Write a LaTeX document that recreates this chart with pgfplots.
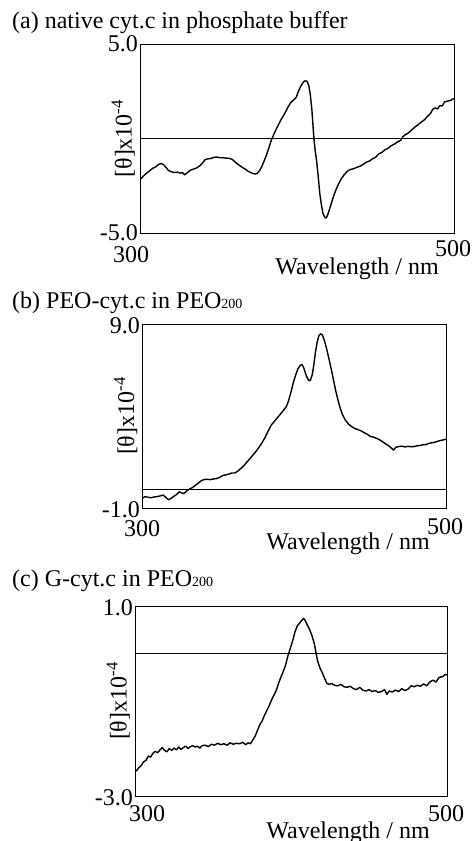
\documentclass[border=0pt]{standalone}
\usepackage{fontspec}
\setmainfont{Liberation Serif}
\usepackage{pgfplots}
\pgfplotsset{compat=1.18}

\newcommand{\lbl}{\fontsize{24bp}{28bp}\selectfont}
\newcommand{\sm}{\fontsize{14bp}{14bp}\selectfont}

\pgfplotsset{
  cdpanel/.style={
    scale only axis, anchor=south west,
    xmin=300, xmax=500,
    axis line style={line width=0.8bp},
    major tick length=0pt,
    tick label style={font=\lbl, inner sep=0pt},
    label style={font=\lbl, inner sep=0pt},
    xtick={300}, xticklabels={300},
    extra x ticks={500}, extra x tick labels={500},
    xlabel={Wavelength / nm},
    xlabel style={at={(axis description cs:1,0)}, anchor=north east},
    ylabel={[θ]x10\textsuperscript{-4}},
    ylabel style={anchor=south},
  },
  curve/.style={black, line width=1.4bp, line join=round},
  zero/.style={black, line width=0.8bp, forget plot},
}

\begin{document}
\begin{tikzpicture}
\useasboundingbox (0,0) rectangle (475bp,-841bp);

\node[anchor=base west, inner sep=0, font=\lbl] at (12bp,-28bp) {(a) native cyt.c in phosphate buffer};
\node[anchor=base west, inner sep=0, font=\lbl] at (12bp,-308bp) {(b) PEO-cyt.c in PEO{\sm 200}};
\node[anchor=base west, inner sep=0, font=\lbl] at (12bp,-586bp) {(c) G-cyt.c in PEO{\sm 200}};

% (a)  (extra tick shifts add to the ordinary ones)
\begin{axis}[cdpanel, at={(140bp,-233bp)}, width=314bp, height=189bp,
  ymin=-5, ymax=5,
  ytick={-5}, yticklabels={-5.0},
  extra y ticks={5}, extra y tick labels={5.0},
  yticklabel style={anchor=east, xshift=-2bp, yshift=0.5bp},
  xticklabel style={anchor=north, xshift=-9bp, yshift=-13bp},
  extra x tick style={xticklabel style={anchor=north, xshift=8bp, yshift=6bp},
    yticklabel style={anchor=north east, yshift=0.5bp}},
  xlabel style={xshift=-15bp, yshift=-25bp},
  ylabel style={at={(axis description cs:-0.016,0.5)}}]
\addplot[zero] coordinates {(300,0) (500,0)};
\addplot[curve] coordinates {
(300,-2.18) (302,-2.00) (304,-1.85) (306,-1.72) (308,-1.58) (310,-1.50) (312,-1.36)
(313.5,-1.33) (315,-1.38) (316.5,-1.52) (318,-1.68) (320,-1.76) (322,-1.80) (324,-1.78)
(325.5,-1.83) (327,-1.80) (328.5,-1.92) (330,-1.82) (332,-1.68) (334,-1.62) (336,-1.56)
(338,-1.45) (340,-1.28) (341.5,-1.12) (343,-1.08) (345,-1.06) (347,-1.00) (349,-0.98)
(351,-1.02) (353,-1.02) (355,-1.04) (357,-1.05) (359,-1.12) (361,-1.28) (363,-1.40)
(365,-1.52) (367,-1.62) (369,-1.74) (371,-1.82) (373,-1.88) (374.5,-1.86) (376,-1.72)
(377.5,-1.50) (379,-1.20) (380.5,-0.88) (382,-0.52) (383.5,-0.12) (385,0.18) (386.5,0.45)
(388,0.70) (390,1.02) (392,1.30) (394,1.62) (396,1.90) (398,2.05) (399.5,2.18)
(401,2.52) (402.5,2.78) (404,2.98) (405.2,3.06) (406.5,3.02) (407.5,2.80) (408.5,2.30)
(409.5,1.50) (410.5,0.30) (411.5,-0.60) (412.5,-1.20) (413.5,-2.00) (414.5,-2.90)
(415.5,-3.50) (416.5,-3.95) (417.5,-4.15) (418.5,-4.21) (419.5,-4.05) (420.5,-3.80)
(422,-3.40) (423.5,-3.00) (425,-2.68) (426.5,-2.40) (428,-2.16) (430,-1.92) (432,-1.74)
(434,-1.64) (436,-1.60) (438,-1.53) (440,-1.47) (442,-1.38) (444,-1.26) (446,-1.20)
(448,-1.08) (450,-1.00) (452,-0.82) (454,-0.74) (456,-0.60) (458,-0.52) (460,-0.38)
(462,-0.30) (464,-0.18) (466,-0.10) (467.5,0.10) (469,0.20) (471,0.30) (473,0.45)
(475,0.60) (477,0.72) (479,0.86) (481,0.98) (483,1.16) (485,1.32) (486.5,1.55)
(488,1.62) (489.5,1.56) (491,1.74) (492.5,1.72) (494,1.94) (496,1.98) (498,2.02) (500,2.12)};
\end{axis}

% (b)
\begin{axis}[cdpanel, at={(142bp,-508bp)}, width=304bp, height=184bp,
  ymin=-1, ymax=9,
  ytick={-1}, yticklabels={-1.0},
  extra y ticks={9}, extra y tick labels={9.0},
  yticklabel style={anchor=east, xshift=-2bp, yshift=-1.5bp},
  xticklabel style={anchor=north, yshift=-12bp},
  extra x tick style={xticklabel style={anchor=north, xshift=-1bp, yshift=2bp},
    yticklabel style={anchor=north east, yshift=3.5bp}},
  xlabel style={xshift=-16bp, yshift=-25bp},
  ylabel style={at={(axis description cs:-0.015,0.5)}}]
\addplot[zero] coordinates {(300,0) (500,0)};
\addplot[curve] coordinates {
(300,-0.49) (302,-0.38) (304,-0.42) (306,-0.44) (308,-0.40) (310,-0.38) (312,-0.34)
(314,-0.30) (316,-0.45) (317.5,-0.55) (319,-0.48) (321,-0.36) (323,-0.25) (324.5,-0.12)
(326,-0.18) (327.5,-0.22) (329,-0.10) (331,0.02) (333,0.10) (335,0.22) (337,0.35)
(339,0.48) (341,0.55) (343,0.56) (345,0.54) (347,0.58) (349,0.60) (351,0.66) (353,0.76)
(355,0.80) (357,0.84) (359,0.90) (361,0.90) (363,1.00) (365,1.15) (367,1.30) (369,1.50)
(371,1.68) (373,1.88) (375,2.08) (377,2.30) (379,2.55) (381,2.84) (383,3.18) (385,3.50)
(387,3.70) (389,3.90) (391,4.10) (393,4.30) (395,4.52) (396.5,4.85) (398,5.30)
(399.5,5.80) (401,6.20) (402.5,6.55) (404,6.75) (405.3,6.80) (406.5,6.60) (408,6.20)
(409.5,5.95) (410.7,5.92) (412,6.25) (413,6.75) (414,7.40) (415.2,8.00) (416.3,8.35)
(417.5,8.47) (418.7,8.40) (420,8.10) (421.5,7.65) (423,7.10) (424.5,6.55) (426,5.95)
(427.5,5.35) (429,4.85) (430.5,4.40) (432,4.05) (434,3.75) (436,3.55) (438,3.42)
(440,3.32) (442,3.26) (444,3.20) (446,3.10) (448,3.02) (450,2.90) (452,2.86) (454,2.80)
(456,2.72) (458,2.62) (460,2.50) (462,2.40) (464,2.26) (465.5,2.15) (467,2.30)
(469,2.34) (471,2.36) (473,2.32) (475,2.35) (477,2.33) (479,2.34) (481,2.38) (483,2.40)
(485,2.44) (487,2.45) (489,2.52) (491,2.55) (493,2.58) (495,2.64) (497,2.68) (500,2.74)};
\end{axis}

% (c)
\begin{axis}[cdpanel, at={(135bp,-796bp)}, width=312bp, height=190bp,
  ymin=-3, ymax=1,
  ytick={-3}, yticklabels={-3.0},
  extra y ticks={1}, extra y tick labels={1.0},
  yticklabel style={anchor=east, xshift=-2bp, yshift=-2bp},
  xticklabel style={anchor=north, xshift=12bp, yshift=-9bp},
  extra x tick style={xticklabel style={anchor=north, xshift=-13bp},
    yticklabel style={anchor=north east, yshift=5bp}},
  xlabel style={xshift=-17bp, yshift=-26bp},
  ylabel style={at={(axis description cs:-0.016,0.5)}}]
\addplot[zero] coordinates {(300,0) (500,0)};
\addplot[curve] coordinates {
(300,-2.45) (301,-2.47) (302.5,-2.40) (304,-2.36) (305.5,-2.28) (307,-2.25) (308.5,-2.16)
(310,-2.18) (311.5,-2.10) (313,-2.06) (314.5,-2.09) (316,-2.03) (317.5,-1.98) (319,-2.04)
(320.5,-2.07) (322,-2.00) (323.5,-2.04) (325,-1.99) (326.5,-2.03) (328,-1.97) (329.5,-2.02)
(331,-1.98) (332.5,-1.95) (334,-2.00) (335.5,-1.96) (337,-1.94) (338.5,-1.97) (340,-1.95)
(341.5,-1.99) (343,-1.94) (345,-1.93) (347,-1.96) (349,-1.91) (351,-1.93) (353,-1.89)
(355,-1.92) (357,-1.90) (359,-1.93) (361,-1.88) (363,-1.91) (365,-1.89) (367,-1.90)
(369,-1.87) (371,-1.92) (372.5,-1.88) (374,-1.90) (375.5,-1.82) (377,-1.74) (378.5,-1.62)
(380,-1.50) (381.5,-1.42) (383,-1.30) (384.5,-1.20) (386,-1.10) (387.5,-0.98) (389,-0.88)
(390.5,-0.78) (392,-0.63) (393.5,-0.50) (395,-0.38) (396.5,-0.25) (398,-0.05) (399.5,0.10)
(401,0.26) (402.5,0.45) (404,0.58) (405.5,0.64) (407,0.70) (408,0.74) (409,0.70)
(410.5,0.60) (412,0.50) (413.5,0.37) (415,0.20) (416,0.02) (417,-0.15) (418.5,-0.30)
(420,-0.40) (421.5,-0.52) (423,-0.63) (424.5,-0.65) (426,-0.63) (428,-0.67) (430,-0.68)
(432,-0.65) (434,-0.70) (436,-0.71) (438,-0.69) (440,-0.74) (442,-0.76) (444,-0.71)
(446,-0.77) (448,-0.79) (450,-0.76) (452,-0.80) (454,-0.78) (456,-0.82) (458,-0.80)
(460,-0.76) (461.5,-0.86) (463,-0.79) (465,-0.81) (467,-0.77) (469,-0.80) (471,-0.74)
(473,-0.78) (475,-0.75) (477,-0.68) (479,-0.70) (481,-0.67) (483,-0.69) (485,-0.64)
(487,-0.68) (489,-0.60) (491,-0.56) (493,-0.60) (495,-0.50) (497,-0.49) (499,-0.44) (500,-0.45)};
\end{axis}
\end{tikzpicture}
\end{document}
